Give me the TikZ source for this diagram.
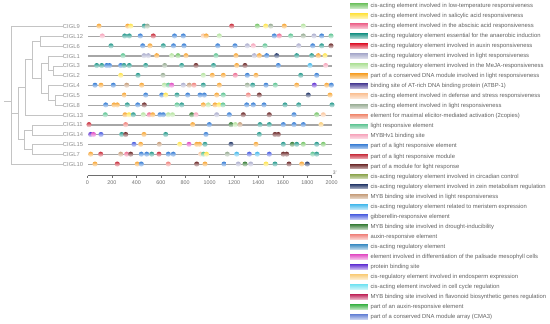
\documentclass[tikz,border=0pt]{standalone}
\usepackage{fontspec}
\setmainfont{Liberation Sans}
\definecolor{cLT}{HTML}{79C66B}
\definecolor{cSA}{HTML}{FFE44D}
\definecolor{cABA}{HTML}{EE6F94}
\definecolor{cANA}{HTML}{2A9B8E}
\definecolor{cAUX}{HTML}{E0283C}
\definecolor{cLRS}{HTML}{AEB0CF}
\definecolor{cMEJA}{HTML}{B5E3A0}
\definecolor{cCDM}{HTML}{F7A738}
\definecolor{cATBP}{HTML}{5B4F9E}
\definecolor{cDEF}{HTML}{FBC79F}
\definecolor{cLRG}{HTML}{9AAE96}
\definecolor{cELI}{HTML}{F0866B}
\definecolor{cLRE}{HTML}{5FC594}
\definecolor{cMYBHv}{HTML}{F6A5BC}
\definecolor{cPLRE}{HTML}{3A7FD5}
\definecolor{cPLRM}{HTML}{C9303E}
\definecolor{cPML}{HTML}{6E2C2C}
\definecolor{cCIR}{HTML}{8DA64F}
\definecolor{cZEIN}{HTML}{283B6B}
\definecolor{cMYBL}{HTML}{C79F7D}
\definecolor{cMER}{HTML}{46B9EC}
\definecolor{cGA}{HTML}{4C5FE0}
\definecolor{cMYBD}{HTML}{3A7F3A}
\definecolor{cAUXR}{HTML}{F0837D}
\definecolor{cCARE}{HTML}{3E8EC4}
\definecolor{cPAL}{HTML}{E24FC4}
\definecolor{cPBS}{HTML}{6536D4}
\definecolor{cEND}{HTML}{F9CD7A}
\definecolor{cCELL}{HTML}{74E3F2}
\definecolor{cFLAV}{HTML}{C22C5F}
\definecolor{cPAUX}{HTML}{3FB54A}
\definecolor{cCMA}{HTML}{6A86D6}
\definecolor{treegray}{HTML}{C4C4C4}
\definecolor{linegray}{HTML}{A6A6A6}
\definecolor{labgray}{HTML}{8C8C8C}
\definecolor{axgray}{HTML}{6E6E6E}
\newcommand\motifrow[2]{%
  \foreach \mx/\mc in {#2}{%
    \shade[top color=\mc,bottom color=\mc!12] (\mx,-#1+0.3) circle (2.6);}}
\begin{document}
\begin{tikzpicture}[x=1pt,y=1pt,
  tree/.style={draw=treegray,line width=0.7pt},
  geneline/.style={draw=linegray,line width=1.2pt},
  genelab/.style={anchor=west,inner sep=0.3pt,text=labgray,font=\fontsize{5.8}{6}\selectfont},
  axisline/.style={draw=axgray,line width=0.5pt},
  ticklab/.style={text=axgray,font=\fontsize{5.4}{6}\selectfont,inner sep=0},
  legtext/.style={anchor=west,inner sep=0,text=black!62,font=\fontsize{5.85}{6}\selectfont},
  swatch/.style={minimum width=17.7pt,minimum height=4.8pt,inner sep=0,anchor=west}]
\useasboundingbox (0,0) rectangle (550,-324);

% gene labels (leaves)
\node[genelab] (l9)  at (62.5,-26.5)  {CIGL9};
\node[genelab] (l12) at (62.5,-36.35) {CIGL12};
\node[genelab] (l6)  at (62.5,-46.2)  {CIGL6};
\node[genelab] (l1)  at (62.5,-56.05) {CIGL1};
\node[genelab] (l3)  at (62.5,-65.9)  {CIGL3};
\node[genelab] (l2)  at (62.5,-75.75) {CIGL2};
\node[genelab] (l4)  at (62.5,-85.6)  {CIGL4};
\node[genelab] (l5)  at (62.5,-95.45) {CIGL5};
\node[genelab] (l8)  at (62.5,-105.3) {CIGL8};
\node[genelab] (l13) at (62.5,-115.15){CIGL13};
\node[genelab] (l11) at (62.5,-125)   {CIGL11};
\node[genelab] (l14) at (62.5,-134.85){CIGL14};
\node[genelab] (l15) at (62.5,-144.7) {CIGL15};
\node[genelab] (l7)  at (62.5,-154.55){CIGL7};
\node[genelab] (l10) at (62.5,-164.4) {CIGL10};

% internal tree nodes
\coordinate (na) at (53,-70.83);
\coordinate (nb) at (48.3,-63.44);
\coordinate (nc) at (55,-100.38);
\coordinate (nd) at (48,-92.99);
\coordinate (ne) at (41.7,-78.21);
\coordinate (nf) at (40,-41.28);
\coordinate (ng) at (32.3,-59.74);
\coordinate (nh) at (25,-87.45);
\coordinate (ni) at (32.3,-129.93);
\coordinate (nj) at (32.3,-149.63);
\coordinate (nk) at (24,-139.78);
\coordinate (nl) at (18.3,-113.61);
\coordinate (root) at (11.7,-101.5);
\coordinate (rstub) at (4,-101.5);

\draw[tree] (na) |- (l3.west) (na) |- (l2.west);
\draw[tree] (nb) |- (l1.west) (nb) |- (na);
\draw[tree] (nc) |- (l5.west) (nc) |- (l8.west);
\draw[tree] (nd) |- (l4.west) (nd) |- (nc);
\draw[tree] (ne) |- (nb) (ne) |- (nd);
\draw[tree] (nf) |- (l12.west) (nf) |- (l6.west);
\draw[tree] (ng) |- (nf) (ng) |- (ne);
\draw[tree] (nh) |- (ng) (nh) |- (l13.west);
\draw[tree] (ni) |- (l11.west) (ni) |- (l14.west);
\draw[tree] (nj) |- (l15.west) (nj) |- (l7.west);
\draw[tree] (nk) |- (ni) (nk) |- (nj);
\draw[tree] (nl) |- (nh) (nl) |- (nk);
\draw[tree] (root) |- (l9.west) (root) |- (nl) (root) |- (l10.west);
\draw[tree] (rstub) -- (root);

% gene lines
\foreach \y in {26.5,36.35,46.2,56.05,65.9,75.75,85.6,95.45,105.3,115.15,125,134.85,144.7,154.55,164.4}
  \draw[geneline] (88,-\y) -- (331.7,-\y);

% motifs
\motifrow{26.5}{99/cCDM,127.7/cCDM,130.7/cSA,144.3/cANA,147.3/cLRG,231.7/cPLRM,257.3/cLT,265.7/cSA,270.7/cLRG,284.3/cCDM,303.3/cMEJA}
\motifrow{36.35}{102.3/cMYBHv,124.7/cANA,129.3/cANA,140.3/cPLRE,153.3/cPLRM,174.5/cPLRE,183.3/cPLRE,203.3/cDEF,206.2/cCDM,219.3/cMEJA,274.3/cPLRE,279.3/cABA,290.7/cLRE,303.3/cLRG,314/cLRS,321.7/cPLRE,331/cLRE}
\motifrow{46.2}{111/cANA,142.7/cPLRE,150/cCDM,163.3/cANA,173.5/cPLRE,184/cPLRE,217.7/cPLRE,235/cPLRE,247.3/cLRS,253.3/cMYBHv,265/cLRE,298.7/cLRS,312.7/cPLRE,321.7/cANA,331/cPML}
\motifrow{56.05}{123/cLRE,144/cLRS,148.3/cLRS,156.7/cCDM,171.7/cMEJA,178/cLT,186/cCDM,216/cLRE,236/cCDM,254.3/cLRS,259.3/cCDM,266.7/cPLRE,276.7/cZEIN,296.7/cANA,311.7/cANA,318.3/cCDM,325/cSA}
\motifrow{65.9}{96.7/cANA,101.7/cANA,106.7/cPLRE,109.5/cPLRE,120.7/cPLRE,124/cANA,129.3/cANA,145.7/cANA,164.7/cLRG,181.7/cANA,196/cPML,213.5/cANA,236.7/cCDM,245/cPML,278.3/cPLRE,310/cMER,325.7/cMYBHv}
\motifrow{75.75}{120.7/cSA,138/cANA,163/cLRG,203.3/cMEJA,212.3/cCDM,223.3/cCDM,235.3/cABA,247.3/cPLRE,256/cCDM,300.7/cANA,316.7/cPLRE}
\motifrow{85.6}{95/cPLRE,101/cCDM,113.3/cPLRE,126.7/cMYBL,141.7/cCDM,164.3/cMEJA,168.3/cLRE,171.7/cPAL,183.3/cLRS,189.3/cMYBL,194/cAUXR,203.3/cANA,219.3/cCDM,247.3/cLRG,252.7/cANA,266/cPLRE,275.3/cLRE,296.7/cCDM,314.3/cPBS,326.7/cCDM,331.3/cPLRE}
\motifrow{95.45}{124.3/cCDM,145.7/cPLRE,161.7/cPLRE,165.7/cSA,177/cANA,187.7/cPLRE,200/cPLRE,204.3/cPLRE,216.7/cCDM,223.3/cLRE,248.3/cAUXR,259.3/cPML,308.3/cZEIN,330/cCDM}
\motifrow{105.3}{105.7/cPLRE,114/cCDM,117.3/cCDM,127.3/cANA,137.7/cPLRE,144.3/cPML,177/cLRE,181.7/cANA,203.3/cCDM,208.3/cMEJA,215/cCDM,219/cSA,223/cLRE,246.7/cPLRE,253.3/cPLRE,264/cPLRE,285/cANA,298.7/cANA,332/cANA}
\motifrow{115.15}{105.3/cLRE,125/cCDM,129/cSA,133.3/cANA,143.3/cMEJA,149.3/cABA,152.7/cCDM,160/cPLRE,163.3/cPLRE,168.3/cMEJA,172.5/cMEJA,191.7/cMYBD,196/cMYBHv,216.7/cLRS,229.3/cPLRE,243.3/cPML,269.3/cPML,294/cPLRE,316.7/cLT,323.3/cDEF}
\motifrow{125}{89/cPLRM,125.7/cAUXR,192.7/cCDM,209.3/cPLRE,231/cMYBD,235.3/cMEJA,240/cMYBL,260/cANA,269.3/cANA,283.3/cPLRE,294/cPLRE,303.3/cPLRE,321/cEND}
\motifrow{134.85}{90.7/cPBS,93.5/cPAL,101/cGA,121.7/cANA,125.7/cPML,144/cCDM,165.7/cANA,206/cPLRE,259.3/cANA,275/cPML,278.3/cPML}
\motifrow{144.7}{134/cGA,140.7/cCDM,159.3/cMYBL,179.7/cSA,189/cPAL,196.7/cCDM,199.5/cCDM,205/cANA,231/cZEIN,256/cCDM,283.3/cANA,292.3/cMYBD,296.7/cANA,303.3/cLT,316.7/cANA,323.3/cLT}
\motifrow{154.55}{90.7/cCDM,100.7/cPLRM,120.7/cMYBL,126.7/cABA,130.7/cPML,141.3/cPLRE,146.7/cPLRE,151.7/cANA,159/cPLRM,168.3/cPLRE,173.3/cPLRE,200.7/cDEF,203.5/cLRE,206.5/cSA,227.3/cLRG,236.7/cMER,249.3/cGA,257.3/cMER,269.3/cGA,283.3/cPML,286.7/cPML,312.7/cLRE,316.7/cANA}
\motifrow{164.4}{95/cCDM,117.3/cPLRM,137.3/cCDM,141.3/cPLRE,168.3/cAUXR,196.7/cPML,205/cCDM,224/cPLRE,238.3/cLRS,245/cMYBD,250.7/cLRS,266/cSA,275/cANA,289/cPML,301.7/cCDM,307.3/cZEIN}

% axis
\coordinate (ax0) at (87.5,-175.5);
\coordinate (ax1) at (331.7,-175.5);
\draw[axisline] (ax0) -- (ax1);
\foreach \v in {0,200,...,2000}{
  \draw[axisline] (87.5+\v*0.1221,-175.5) -- ++(0,-2.2);
  \node[ticklab] at (87.5+\v*0.1221,-182.8) {\v};}
\node[ticklab,font=\fontsize{5}{6}\selectfont] (three) at (334.8,-172.6) {3'};

% legend
\foreach \c/\t [count=\i] in {
 cLT/{cis-acting element involved in low-temperature responsiveness},
 cSA/{cis-acting element involved in salicylic acid responsiveness},
 cABA/{cis-acting element involved in the abscisic acid responsiveness},
 cANA/{cis-acting regulatory element essential for the anaerobic induction},
 cAUX/{cis-acting regulatory element involved in auxin responsiveness},
 cLRS/{cis-acting regulatory element involved in light responsiveness},
 cMEJA/{cis-acting regulatory element involved in the MeJA-responsiveness},
 cCDM/{part of a conserved DNA module involved in light responsiveness},
 cATBP/{binding site of AT-rich DNA binding protein (ATBP-1)},
 cDEF/{cis-acting element involved in defense and stress responsiveness},
 cLRG/{cis-acting element involved in light responsiveness},
 cELI/{element for maximal elicitor-mediated activation (2copies)},
 cLRE/{light responsive element},
 cMYBHv/{MYBHv1 binding site},
 cPLRE/{part of a light responsive element},
 cPLRM/{part of a light responsive module},
 cPML/{part of a module for light response},
 cCIR/{cis-acting regulatory element involved in circadian control},
 cZEIN/{cis-acting regulatory element involved in zein metabolism regulation},
 cMYBL/{MYB binding site involved in light responsiveness},
 cMER/{cis-acting regulatory element related to meristem expression},
 cGA/{gibberellin-responsive element},
 cMYBD/{MYB binding site involved in drought-inducibility},
 cAUXR/{auxin-responsive element},
 cCARE/{cis-acting regulatory element},
 cPAL/{element involved in differentiation of the palisade mesophyll cells},
 cPBS/{protein binding site},
 cEND/{cis-regulatory element involved in endosperm expression},
 cCELL/{cis-acting element involved in cell cycle regulation},
 cFLAV/{MYB binding site involved in flavonoid biosynthetic genes regulation},
 cPAUX/{part of an auxin-responsive element},
 cCMA/{part of a conserved DNA module array (CMA3)}}{
  \node[swatch,top color=\c,bottom color=\c!35] (s\i) at (350,{-6.2-10.02*(\i-1)}) {};
  \node[legtext] (t\i) at (370.3,{-6.2-10.02*(\i-1)}) {\t};
}
\end{tikzpicture}
\end{document}
